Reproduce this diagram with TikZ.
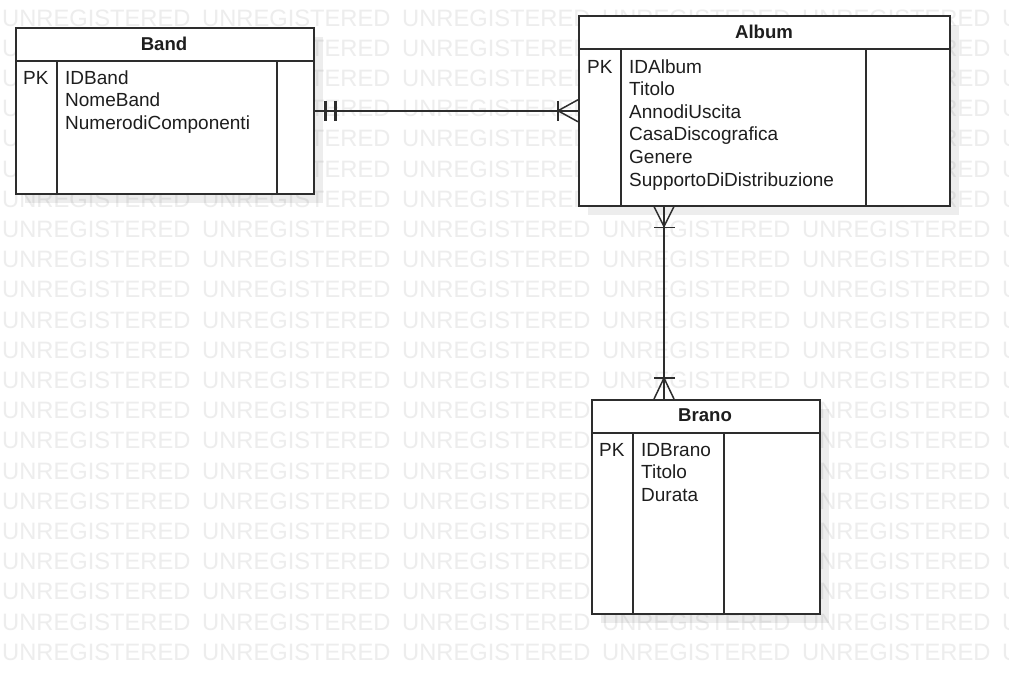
\documentclass[tikz,border=0pt]{standalone}
\usepackage{fontspec}
\setmainfont{Liberation Sans}
\usetikzlibrary{calc}
\definecolor{wm}{RGB}{237,237,237}
\definecolor{ln}{RGB}{45,45,45}
\definecolor{tx}{RGB}{30,30,30}
\begin{document}
\begin{tikzpicture}[x=1pt,y=-1pt,
  wmark/.style={anchor=base west, inner sep=0pt, text=wm, font=\fontsize{23.7}{28}\selectfont},
  shade/.style={fill=black, opacity=0.07},
  ent/.style={draw=ln, line width=1.5pt, fill=white, anchor=north west, inner sep=0pt},
  div/.style={draw=ln, line width=1.5pt},
  ttl/.style={inner sep=0pt, text=tx, font=\fontsize{18.6}{22}\selectfont\bfseries},
  fld/.style={anchor=base west, inner sep=0pt, text=tx, font=\fontsize{19}{22}\selectfont},
  conn/.style={draw=ln, line width=1.5pt},
  bar/.style={draw=ln, line width=2.2pt}]
\fill[white] (0,0) rectangle (1009,673);
\useasboundingbox (0,0) rectangle (1009,673);
% watermark
\foreach \r in {0,...,21}{
  \foreach \c in {0,...,5}{
    \node[wmark] (w\r-\c) at (2+200*\c, 26+30.2*\r) {UNREGISTERED};
  }
}
% ---------- Band ----------
\fill[shade] (25,37) rectangle (323,203);
\node[ent, minimum width=298pt, minimum height=166pt] (band) at (15,27) {};
\draw[div] (15,61) -- (313,61);
\draw[div] (57,61) -- (57,193);
\draw[div] (277,61) -- (277,193);
\node[ttl] (bandT) at (164,44) {Band};
\node[fld] (bandPK) at (23,84) {PK};
\node[fld] (bandF1) at (65,84) {IDBand};
\node[fld] (bandF2) at (65,106.6) {NomeBand};
\node[fld] (bandF3) at (65,129.2) {NumerodiComponenti};
% ---------- Album ----------
\fill[shade] (588,25) rectangle (959,215);
\node[ent, minimum width=371pt, minimum height=190pt] (album) at (578,15) {};
\draw[div] (578,49) -- (949,49);
\draw[div] (621,49) -- (621,205);
\draw[div] (866,49) -- (866,205);
\node[ttl] (albumT) at (764,32) {Album};
\node[fld] (albumPK) at (587,73) {PK};
\node[fld] (albumF1) at (629,73) {IDAlbum};
\node[fld] (albumF2) at (629,95.6) {Titolo};
\node[fld] (albumF3) at (629,118.2) {AnnodiUscita};
\node[fld] (albumF4) at (629,140.8) {CasaDiscografica};
\node[fld] (albumF5) at (629,163.4) {Genere};
\node[fld] (albumF6) at (629,186) {SupportoDiDistribuzione};
% ---------- Brano ----------
\fill[shade] (601,409) rectangle (829,623);
\node[ent, minimum width=228pt, minimum height=214pt] (brano) at (591,399) {};
\draw[div] (591,433) -- (819,433);
\draw[div] (633,433) -- (633,613);
\draw[div] (724,433) -- (724,613);
\node[ttl] (branoT) at (705,415) {Brano};
\node[fld] (branoPK) at (599,456) {PK};
\node[fld] (branoF1) at (641,456) {IDBrano};
\node[fld] (branoF2) at (641,478.6) {Titolo};
\node[fld] (branoF3) at (641,501.2) {Durata};
% ---------- Band -- Album ----------
\draw[conn] (band.east) -- (album.west);
\draw[bar] ($(band.east)+(11,-10)$) -- ($(band.east)+(11,10)$);
\draw[bar] ($(band.east)+(21,-10)$) -- ($(band.east)+(21,10)$);
\draw[conn] ($(album.west)+(0,-11)$) -- ($(album.west)+(-20,0)$) -- ($(album.west)+(0,11)$);
\draw[bar] ($(album.west)+(-20,-10)$) -- ($(album.west)+(-20,10)$);
% ---------- Album -- Brano ----------
\coordinate (aB) at ([xshift=86pt]album.south west);
\coordinate (bT) at ([xshift=73pt]brano.north west);
\draw[conn] (aB) -- (bT);
\draw[conn] ($(aB)+(-10,0)$) -- ($(aB)+(0,20)$) -- ($(aB)+(10,0)$);
\draw[conn] ($(aB)+(-10,21)$) -- ($(aB)+(11,21)$);
\draw[conn] ($(bT)+(-10,0)$) -- ($(bT)+(0,-21)$) -- ($(bT)+(10,0)$);
\draw[conn] ($(bT)+(-10,-21)$) -- ($(bT)+(11,-21)$);
\end{tikzpicture}
\end{document}
